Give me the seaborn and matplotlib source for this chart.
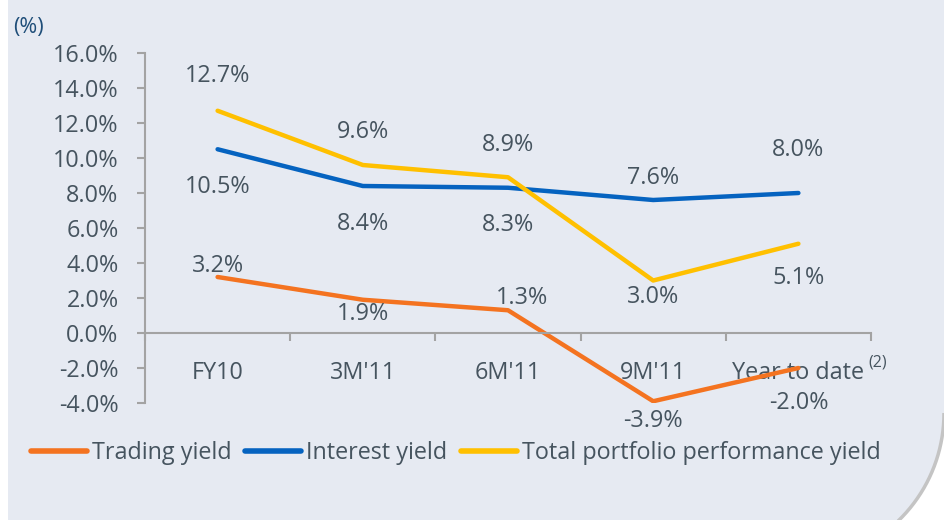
import numpy as np
import pandas as pd
import matplotlib
matplotlib.use('Agg')
import matplotlib.pyplot as plt
import matplotlib.transforms as mtransforms
from matplotlib.path import Path
from matplotlib.patches import PathPatch
from matplotlib.ticker import MultipleLocator, FuncFormatter
import seaborn as sns

# Data
categories = ["FY10", "3M'11", "6M'11", "9M'11", "Year to date"]
trading = [3.2, 1.9, 1.3, -3.9, -2.0]
interest = [10.5, 8.4, 8.3, 7.6, 8.0]
total = [12.7, 9.6, 8.9, 3.0, 5.1]
series_names = ["Trading yield", "Interest yield", "Total portfolio performance yield"]
colors = ["#f47320", "#0563c0", "#ffc000"]

# label offsets (points) per series, per category
label_offsets = [
    [(0, 8), (0, -10), (10, 9), (0, -14), (0, -25)],
    [(0, -27), (0, -27), (0, -27), (0, 16), (0, 31)],
    [(0, 25), (0, 24), (0, 23), (0, -12), (0, -25)],
]

text_color = "#46545f"
axis_color = "#a3a3a3"
fs = 16.8

sns.set_theme(style="white")
plt.rcParams['font.family'] = ['Open Sans', 'DejaVu Sans']

pos = np.arange(len(categories))
df = pd.DataFrame({
    'pos': np.tile(pos, 3),
    'value': trading + interest + total,
    'series': np.repeat(series_names, len(categories)),
})

fig = plt.figure(figsize=(9.44, 5.2), dpi=100, facecolor='white')

# background panel (pixel coords, y downwards) with rounded bottom-right corner
px = mtransforms.Affine2D().scale(1 / 944, -1 / 520).translate(0, 1) + fig.transFigure
theta = np.linspace(0, np.pi / 2, 40)
arc = np.column_stack([794 + 150 * np.cos(theta), 413 + 150 * np.sin(theta)])
verts = np.vstack([[[8, -5], [950, -5], [944, 413]], arc, [[8, 563], [8, -5]]])
fig.add_artist(PathPatch(Path(verts), transform=px, facecolor='#e6eaf2',
                         edgecolor='none', zorder=0))
fig.add_artist(PathPatch(Path(arc), transform=px, facecolor='none',
                         edgecolor='#c4c4c4', lw=2.5, zorder=0.5))

ax = fig.add_axes([145 / 944, 1 - 403 / 520, 726 / 944, 350 / 520])
ax.set_facecolor('none')

sns.lineplot(data=df, x='pos', y='value', hue='series', hue_order=series_names,
             palette=colors, lw=3.2, ax=ax, solid_capstyle='round')

# data labels
for vals, offs in zip([trading, interest, total], label_offsets):
    for x, v, off in zip(pos, vals, offs):
        ax.annotate(f"{v:.1f}%", (x, v), xytext=off, textcoords='offset points',
                    ha='center', va='center', fontsize=fs, color=text_color)

ax.set_xlim(-0.5, len(categories) - 0.5)
ax.set_ylim(-4, 16)
ax.yaxis.set_major_locator(MultipleLocator(2))
ax.yaxis.set_major_formatter(FuncFormatter(lambda v, p: f"{v:.1f}%"))

for s in ['top', 'right']:
    ax.spines[s].set_visible(False)
ax.spines['left'].set_color(axis_color)
ax.spines['left'].set_linewidth(1.5)
ax.spines['bottom'].set_position(('data', 0))
ax.spines['bottom'].set_color(axis_color)
ax.spines['bottom'].set_linewidth(1.5)

ax.set_xticks(np.arange(-0.5, len(categories), 1))
ax.set_xticklabels([])
ax.set_xticks(pos, minor=True)
ax.set_xticklabels(categories, minor=True)
ax.tick_params(axis='x', which='major', direction='out', length=6, width=1.5,
               color=axis_color, bottom=True)
ax.tick_params(axis='x', which='minor', length=0, pad=20, labelsize=fs,
               labelcolor=text_color)
ax.tick_params(axis='y', direction='out', length=6, width=1.5, color=axis_color,
               left=True, pad=13, labelsize=fs, labelcolor=text_color)
ax.set_xlabel('')
ax.set_ylabel('')

ax.annotate("(2)", (4, 0), xytext=(57, -21), textcoords='offset points',
            ha='center', va='center', fontsize=11.5, color=text_color)

fig.text(13 / 944, 1 - 28 / 520, "(%)", color='#1f4e79', fontsize=15.5, va='center')

handles, labels = ax.get_legend_handles_labels()
ax.get_legend().remove()
leg = fig.legend(handles, labels, loc='center left',
                 bbox_to_anchor=(31 / 944, 1 - 453 / 520), ncol=3, frameon=False,
                 fontsize=fs, handlelength=2.4, handletextpad=0.2,
                 columnspacing=0.6, borderaxespad=0, borderpad=0,
                 labelcolor=text_color)
for line in leg.get_lines():
    line.set_linewidth(4)
    line.set_solid_capstyle('round')

fig.savefig('out.png', dpi=100, facecolor=fig.get_facecolor())
